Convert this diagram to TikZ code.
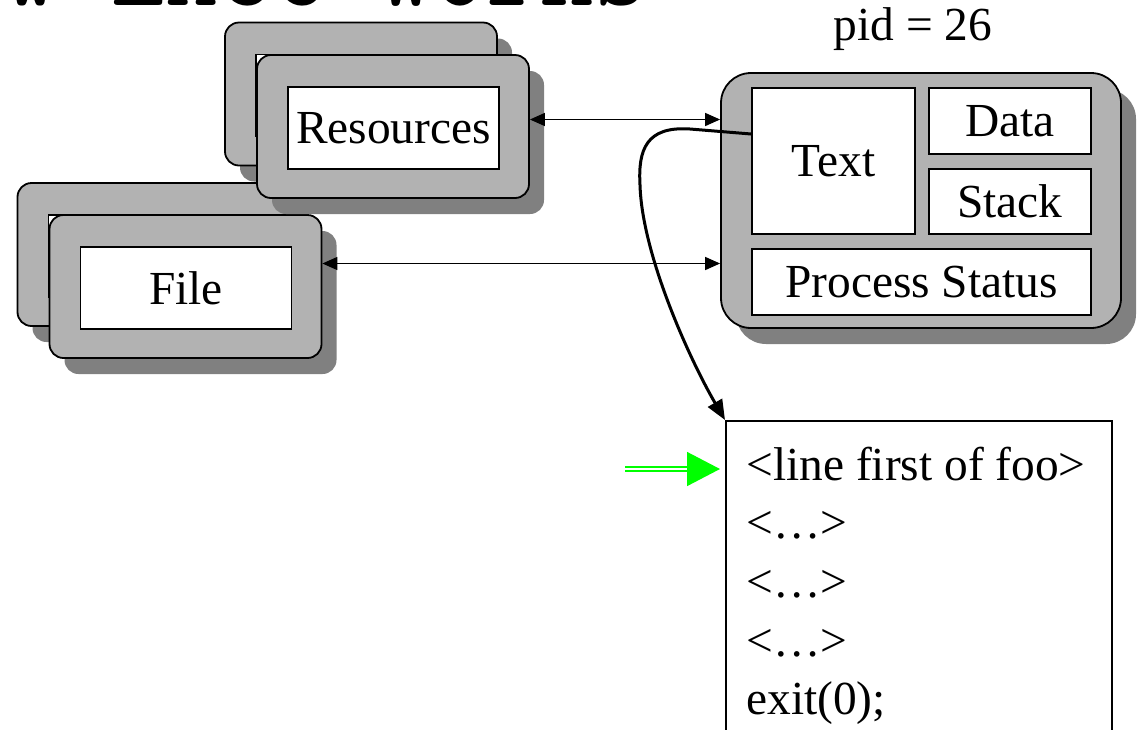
\documentclass[tikz,border=0pt]{standalone}
\usepackage{fontspec}
\setmainfont{Liberation Serif}
\usepackage{tikz}
\usetikzlibrary{arrows.meta,shadows}
\tikzstyle{panel} = [rectangle, rounded corners=7pt, minimum width=136pt,%
    minimum height=71.5pt, draw=black, line width=0.9pt, fill=black!30,%
    drop shadow={shadow xshift=7.5pt, shadow yshift=-8pt, fill=black!50, opacity=1}]
\tikzstyle{cell} = [rectangle, inner sep=0pt, text centered, draw=black,%
    line width=0.9pt, fill=white]
\tikzstyle{slot} = [cell, minimum width=105.5pt, minimum height=41pt]
\tikzstyle{codeline} = [anchor=base west, inner sep=0pt]
\tikzstyle{link} = [line width=0.75pt,%
    {Triangle[length=7.5pt,width=6.5pt]}-{Triangle[length=7.5pt,width=6.5pt]}]
\tikzstyle{flow} = [line width=1.5pt, -{Triangle[length=10pt,width=8pt]}]
\tikzstyle{pointer} = [draw=green, line width=0.75pt, double=white,%
    double distance=1.2pt, -{Triangle[length=16.5pt,width=17pt]}]

\begin{document}
\begin{tikzpicture}[x=0.5pt, y=-0.5pt, font=\fontsize{23.7}{28}\selectfont]
    \useasboundingbox (0,0) rectangle (1139,729);
    \node (title) [anchor=base west, inner sep=0pt,%
        font=\ttfamily\fontsize{52}{56}\selectfont] at (-103,5) {How Exec Works};
    % file table
    \node (fileback) [panel] at (153.5,254.5) {};
    \node (filebackin) [slot] at (154,256) {};
    \node (filebox) [panel] at (185.5,286.5) {};
    \node (file) [slot] at (186,288) {File};
    % resources
    \node (resback) [panel] at (361,94) {};
    \node (resbackin) [slot] at (361.5,95.5) {};
    \node (resbox) [panel] at (393,126.5) {};
    \node (res) [slot] at (393.5,128) {Resources};
    % process image
    \node (pid) at (913,29) {pid = 26};
    \node (proc) [panel, rounded corners=15pt, minimum width=200pt,%
        minimum height=127.5pt] at (921,200.5) {};
    \node (textseg) [cell, minimum width=81.5pt, minimum height=73pt] at (833.5,161) {Text};
    \node (dataseg) [cell, minimum width=81pt, minimum height=33pt] at (1010,121) {Data};
    \node (stackseg) [cell, minimum width=81pt, minimum height=32.5pt] at (1010,201.5) {Stack};
    \node (status) [cell, minimum width=169.5pt, minimum height=33pt] at (921.5,282) {Process Status};
    % program
    \node (code) [rectangle, draw=black, line width=1pt, minimum width=193pt,%
        minimum height=170pt, anchor=north west] at (725,420) {};
    \node (line1) [codeline] at (746,480) {<line first of foo>};
    \node (line2) [codeline] at (746,538.7) {<…>};
    \node (line3) [codeline] at (746,597.4) {<…>};
    \node (line4) [codeline] at (746,656.1) {<…>};
    \node (line5) [codeline] at (746,714.8) {exit(0);};
    \coordinate (cursor) at (625,469);
    \draw [link] ([yshift=3.5pt]resbox.east) -- ([yshift=3.5pt]resbox.east -| proc.west);
    \draw [link] ([yshift=11.5pt]filebox.east) -- ([yshift=11.5pt]filebox.east -| proc.west);
    \draw [flow] ([yshift=13.5pt]textseg.west) -- (690,129)
        .. controls (646,126) and (638,150) .. (640,185)
        .. controls (642,255) and (690,360) .. (code.north west);
    \draw [pointer, shorten >=2.5pt] (cursor) -- (cursor -| code.west);
\end{tikzpicture}
\end{document}
